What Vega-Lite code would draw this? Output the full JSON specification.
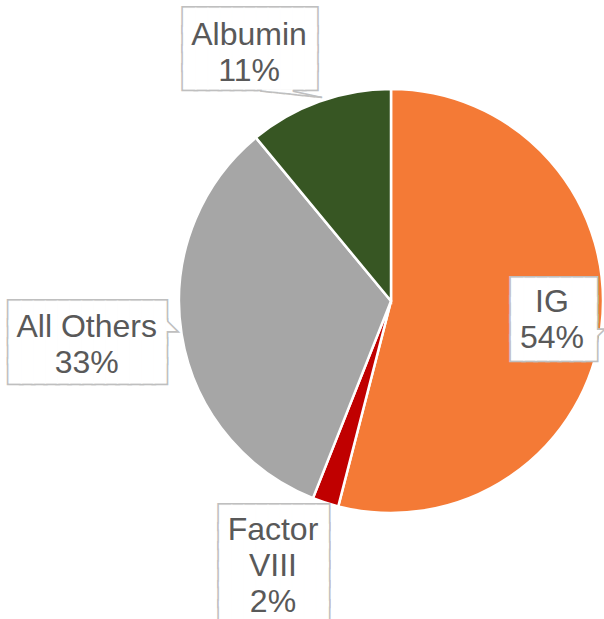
{
  "$schema": "https://vega.github.io/schema/vega-lite/v6.json",
  "width": 424,
  "height": 602,
  "autosize": {"type": "none"},
  "padding": {"left": 179, "top": 0, "right": 1, "bottom": 17},
  "background": "white",
  "config": {"view": {"stroke": null}},
  "data": {
    "values": [
      {"cat": "IG", "value": 54, "rank": 1, "label": "IG\n54%"},
      {"cat": "Factor VIII", "value": 2, "rank": 2, "label": "Factor\nVIII\n2%"},
      {"cat": "All Others", "value": 33, "rank": 3, "label": "All Others\n33%"},
      {"cat": "Albumin", "value": 11, "rank": 4, "label": "Albumin\n11%"}
    ]
  },
  "encoding": {
    "theta": {"field": "value", "type": "quantitative", "stack": true},
    "order": {"field": "rank", "type": "quantitative"}
  },
  "layer": [
    {
      "mark": {"type": "arc", "outerRadius": 212, "stroke": "white", "strokeWidth": 2.5},
      "encoding": {
        "color": {
          "field": "cat",
          "type": "nominal",
          "scale": {
            "domain": ["IG", "Factor VIII", "All Others", "Albumin"],
            "range": ["#F47A36", "#C00000", "#A6A6A6", "#375623"]
          },
          "legend": null
        }
      }
    },
    {
      "mark": {
        "type": "text",
        "font": "DejaVu Sans Mono",
        "fontSize": 20,
        "lineHeight": 19.3,
        "align": "center",
        "baseline": "middle",
        "fill": "#FFFFFF",
        "stroke": "#BFBFBF",
        "strokeWidth": 4.5,
        "radius": {"expr": "datum.cat === 'IG' ? 163 : datum.cat === 'All Others' ? 302 : datum.cat === 'Albumin' ? 270 : 280"},
        "dx": {"expr": "datum.cat === 'Albumin' ? -49.5 : datum.cat === 'Factor VIII' ? -30.5 : datum.cat === 'All Others' ? -5.2 : 1.3"},
        "dy": {"expr": "datum.cat === 'Albumin' ? -26.4 : datum.cat === 'Factor VIII' ? -49.7 : datum.cat === 'All Others' ? -34.6 : -30.8"}
      },
      "encoding": {
        "text": {
          "condition": [
            {"test": "datum.cat === 'IG'", "value": ["███████", "███████", "███████", "███████"]},
            {"test": "datum.cat === 'All Others'", "value": ["█████████████", "█████████████", "█████████████", "█████████████"]},
            {"test": "datum.cat === 'Albumin'", "value": ["███████████", "███████████", "███████████", "███████████"]}
          ],
          "value": ["█████████", "█████████", "█████████", "█████████", "█████████", "█████████"]
        }
      }
    },
    {
      "mark": {
        "type": "text",
        "font": "DejaVu Sans Mono",
        "fontSize": {"expr": "datum.cat === 'IG' ? 10 : 16"},
        "align": "left",
        "baseline": "middle",
        "fill": "#FFFFFF",
        "stroke": "#BFBFBF",
        "strokeWidth": 4.5,
        "radius": {"expr": "datum.cat === 'IG' ? 163 : datum.cat === 'All Others' ? 302 : datum.cat === 'Albumin' ? 270 : 280"},
        "dx": {"expr": "datum.cat === 'All Others' ? 72.6 : 42.8"},
        "dy": {"expr": "datum.cat === 'All Others' ? -23.2 : 11.9"}
      },
      "encoding": {
        "text": {
          "condition": [
            {"test": "datum.cat === 'IG'", "value": "◤"},
            {"test": "datum.cat === 'All Others'", "value": "◣"}
          ],
          "value": ""
        }
      }
    },
    {
      "mark": {
        "type": "text",
        "font": "DejaVu Sans Mono",
        "fontSize": 20,
        "lineHeight": 19.3,
        "align": "center",
        "baseline": "middle",
        "fill": "#FFFFFF",
        "stroke": "#FFFFFF",
        "strokeWidth": 1,
        "radius": {"expr": "datum.cat === 'IG' ? 163 : datum.cat === 'All Others' ? 302 : datum.cat === 'Albumin' ? 270 : 280"},
        "dx": {"expr": "datum.cat === 'Albumin' ? -49.5 : datum.cat === 'Factor VIII' ? -30.5 : datum.cat === 'All Others' ? -5.2 : 1.3"},
        "dy": {"expr": "datum.cat === 'Albumin' ? -26.4 : datum.cat === 'Factor VIII' ? -49.7 : datum.cat === 'All Others' ? -34.6 : -30.8"}
      },
      "encoding": {
        "text": {
          "condition": [
            {"test": "datum.cat === 'IG'", "value": ["███████", "███████", "███████", "███████"]},
            {"test": "datum.cat === 'All Others'", "value": ["█████████████", "█████████████", "█████████████", "█████████████"]},
            {"test": "datum.cat === 'Albumin'", "value": ["███████████", "███████████", "███████████", "███████████"]}
          ],
          "value": ["█████████", "█████████", "█████████", "█████████", "█████████", "█████████"]
        }
      }
    },
    {
      "mark": {
        "type": "text",
        "font": "DejaVu Sans Mono",
        "fontSize": {"expr": "datum.cat === 'IG' ? 10 : 16"},
        "align": "left",
        "baseline": "middle",
        "fill": "#FFFFFF",
        "stroke": "#FFFFFF",
        "strokeWidth": 1,
        "radius": {"expr": "datum.cat === 'IG' ? 163 : datum.cat === 'All Others' ? 302 : datum.cat === 'Albumin' ? 270 : 280"},
        "dx": {"expr": "datum.cat === 'All Others' ? 72.6 : 42.8"},
        "dy": {"expr": "datum.cat === 'All Others' ? -23.2 : 11.9"}
      },
      "encoding": {
        "text": {
          "condition": [
            {"test": "datum.cat === 'IG'", "value": "◤"},
            {"test": "datum.cat === 'All Others'", "value": "◣"}
          ],
          "value": ""
        }
      }
    },
    {
      "mark": {
        "type": "text",
        "font": "DejaVu Sans Mono",
        "fontSize": 25,
        "align": "left",
        "baseline": "alphabetic",
        "fill": "#FFFFFF",
        "radius": 270,
        "dx": -37.5,
        "dy": 39.9
      },
      "encoding": {
        "text": {"condition": {"test": "datum.cat === 'Albumin'", "value": "▁▁"}, "value": ""}
      }
    },
    {
      "mark": {
        "type": "text",
        "font": "DejaVu Sans Mono",
        "fontSize": 10.3,
        "align": "left",
        "baseline": "alphabetic",
        "fill": "#BFBFBF",
        "angle": 6,
        "radius": 270,
        "dx": -34.7,
        "dy": 46.2
      },
      "encoding": {
        "text": {"condition": {"test": "datum.cat === 'Albumin'", "value": "▁▁▁▁▁▁▁▁▁▁"}, "value": ""}
      }
    },
    {
      "mark": {
        "type": "text",
        "font": "DejaVu Sans Mono",
        "fontSize": 9.9,
        "align": "left",
        "baseline": "alphabetic",
        "fill": "#BFBFBF",
        "angle": 12.63,
        "radius": 270,
        "dx": 3.3,
        "dy": 42.75
      },
      "encoding": {
        "text": {"condition": {"test": "datum.cat === 'Albumin'", "value": "▁▁▁▁▁"}, "value": ""}
      }
    },
    {
      "mark": {
        "type": "text",
        "font": "Liberation Sans",
        "fontSize": 32,
        "lineHeight": 36,
        "lineBreak": "\n",
        "align": "center",
        "baseline": "middle",
        "fill": "#595959",
        "radius": {"expr": "datum.cat === 'IG' ? 163 : datum.cat === 'All Others' ? 302 : datum.cat === 'Albumin' ? 270 : 280"},
        "dx": {"expr": "datum.cat === 'Albumin' ? -50.5 : datum.cat === 'Factor VIII' ? -31.5 : datum.cat === 'All Others' ? -6 : -0.7"},
        "dy": {"expr": "datum.cat === 'Albumin' ? -12.4 : datum.cat === 'Factor VIII' ? -37.2 : datum.cat === 'All Others' ? -21.1 : -19.1"}
      },
      "encoding": {
        "text": {"field": "label", "type": "nominal"}
      }
    }
  ]
}
